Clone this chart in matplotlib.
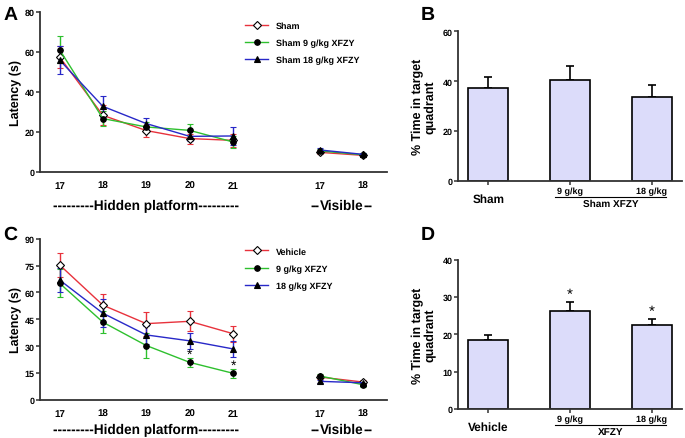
import numpy as np
import matplotlib
matplotlib.use("Agg")
import matplotlib.pyplot as plt
import matplotlib.transforms as mtransforms

plt.rcParams['font.family'] = ['Liberation Sans', 'DejaVu Sans']
plt.rcParams['font.weight'] = 'bold'
plt.rcParams['axes.labelweight'] = 'bold'
plt.rcParams['text.hinting'] = 'no_hinting'

# ---- data ----
days = ["17", "18", "19", "20", "21", "17", "18"]
xpos = [0, 1, 2, 3, 4, 6, 7]

a_labels = ["Sham", "Sham 9 g/kg XFZY", "Sham 18 g/kg XFZY"]
a_sham = [57.5, 28.3, 20.7, 16.7, 15.8, 9.8, 8.3]
a_sham_err = [5.5, 5.0, 3.0, 2.5, 3.2, 1.0, 0.8]
a_9g = [61.2, 26.7, 22.5, 20.8, 15.0, 10.5, 8.6]
a_9g_err = [6.8, 3.7, 2.5, 3.0, 3.0, 0.8, 0.8]
a_18g = [56.0, 32.8, 24.2, 17.8, 18.0, 11.0, 8.8]
a_18g_err = [7.2, 5.4, 2.6, 2.5, 4.5, 1.2, 0.8]

c_labels = ["Vehicle", "9 g/kg XFZY", "18 g/kg XFZY"]
c_veh = [75.4, 52.9, 42.6, 43.9, 37.0, 12.8, 10.0]
c_veh_err = [6.6, 6.3, 6.7, 5.6, 4.5, 1.0, 1.0]
c_9g = [65.2, 43.4, 30.4, 21.0, 14.9, 13.4, 8.5]
c_9g_err = [7.8, 6.0, 7.0, 2.6, 2.6, 1.0, 1.0]
c_18g = [67.0, 48.4, 36.3, 33.0, 28.5, 10.4, 9.6]
c_18g_err = [6.8, 7.8, 5.0, 4.6, 4.3, 1.0, 1.0]
c_sig = [3, 4]  # indices of 9 g/kg points marked with *

b_groups = ["Sham", "9 g/kg", "18 g/kg"]
b_vals = [37.3, 40.3, 33.7]
b_err = [4.3, 5.9, 4.6]

d_groups = ["Vehicle", "9 g/kg", "18 g/kg"]
d_vals = [18.4, 26.3, 22.6]
d_err = [1.4, 2.45, 1.6]
d_sig = [1, 2]

red = "#e8323c"
green = "#2ec02e"
blue = "#2828c8"
bar_fill = "#dcdcfa"
spine_c = "#333333"

fig = plt.figure(figsize=(6.85, 4.39), dpi=100)
axA = fig.add_axes([0.0584, 0.606, 0.5066, 0.3645])
axC = fig.add_axes([0.0584, 0.0866, 0.5066, 0.3674])
axB = fig.add_axes([0.6686, 0.586, 0.327, 0.340])
axD = fig.add_axes([0.6686, 0.066, 0.327, 0.340])


def style(ax):
    for s in ["top", "right"]:
        ax.spines[s].set_visible(False)
    for s in ["left", "bottom"]:
        ax.spines[s].set_linewidth(1.3)
        ax.spines[s].set_color(spine_c)
    ax.tick_params(axis="y", length=3, width=1.1, labelsize=6.5, pad=1,
                   color=spine_c)


def line_panel(ax, series, ymax, yticks, label_y, leg_anchor):
    style(ax)
    handles = []
    x = np.array(xpos)
    for vals, err, col, mk, mfc, lab in series:
        vals = np.array(vals); err = np.array(err)
        for seg in (slice(0, 5), slice(5, 7)):
            ax.errorbar(x[seg], vals[seg], yerr=err[seg], color=col, lw=1.0,
                        elinewidth=1.0, capsize=2.5, capthick=1.0,
                        marker=mk, ms=4, mfc=mfc, mec="black", mew=0.8, zorder=3)
        h, = ax.plot([], [], color=col, lw=1.0, marker=mk, ms=4, mfc=mfc,
                     mec="black", mew=0.8, label=lab)
        handles.append(h)
    ax.set_xlim(-0.45, 7.55)
    ax.set_ylim(0, ymax)
    ax.set_yticks(yticks)
    ax.set_xticks(xpos)
    ax.set_xticklabels(days)
    ax.tick_params(axis="x", length=0, labelsize=7, pad=6)
    ax.set_ylabel("Latency (s)", fontsize=9, labelpad=2)
    tr = mtransforms.blended_transform_factory(ax.transData, ax.transAxes)
    ax.text(2, label_y, "---------Hidden platform---------", transform=tr,
            ha="center", va="center", fontsize=9.8)
    # "--Visible--" split so the hyphen/V kerning does not merge the dashes
    ax.text(6.5, label_y, "Visible", transform=tr,
            ha="center", va="center", fontsize=9.8)
    ax.annotate("--", xy=(6.5, label_y), xycoords=tr, xytext=(-15.6, 0),
                textcoords="offset points", ha="right", va="center",
                fontsize=9.8)
    ax.annotate("--", xy=(6.5, label_y), xycoords=tr, xytext=(15.8, 0),
                textcoords="offset points", ha="left", va="center",
                fontsize=9.8)
    ax.legend(handles=handles, loc="upper left", bbox_to_anchor=leg_anchor,
              frameon=False, fontsize=6.5, handlelength=2.6, labelspacing=1.0,
              handletextpad=0.8, borderaxespad=0)


line_panel(axA, [(a_sham, a_sham_err, red, "D", "white", a_labels[0]),
                 (a_9g, a_9g_err, green, "o", "black", a_labels[1]),
                 (a_18g, a_18g_err, blue, "^", "black", a_labels[2])],
           80, [0, 20, 40, 60, 80], -0.21, (0.58, 0.965))

line_panel(axC, [(c_veh, c_veh_err, red, "D", "white", c_labels[0]),
                 (c_9g, c_9g_err, green, "o", "black", c_labels[1]),
                 (c_18g, c_18g_err, blue, "^", "black", c_labels[2])],
           90, [0, 15, 30, 45, 60, 75, 90], -0.184, (0.58, 0.97))
for i in c_sig:
    axC.text(xpos[i], c_9g[i] + c_9g_err[i] + 2.0, "*", ha="center",
             va="center", fontsize=10, fontweight="normal")


def bar_panel(ax, groups, vals, err, ymax, yticks, first_y, sub_y, line_y,
              group_name):
    style(ax)
    x = np.arange(len(vals))
    ax.bar(x, vals, width=0.49, color=bar_fill, edgecolor="black", lw=1.2,
           zorder=2)
    ax.errorbar(x, vals, yerr=[np.zeros(len(err)), err], fmt="none",
                ecolor="black", elinewidth=1.2, capsize=3, capthick=1.2,
                zorder=1)
    ax.set_xlim(-0.37, 2.37)
    ax.set_ylim(0, ymax)
    ax.set_yticks(yticks)
    ax.set_xticks(x)
    ax.set_xticklabels([""] + groups[1:])
    ax.tick_params(axis="x", length=3, width=1.1, labelsize=6.5, pad=1,
                   color=spine_c)
    ax.set_ylabel("% Time in target\nquadrant", fontsize=9, labelpad=4,
                  linespacing=1.1)
    tr = mtransforms.blended_transform_factory(ax.transData, ax.transAxes)
    ax.text(0, first_y, groups[0], transform=tr, ha="center", va="center",
            fontsize=8.5)
    ax.plot([0.82, 2.18], [line_y, line_y], transform=tr, color="black",
            lw=0.8, clip_on=False)
    ax.text(1.5, sub_y, group_name, transform=tr, ha="center", va="center",
            fontsize=7.2)


bar_panel(axB, b_groups, b_vals, b_err, 60, [0, 20, 40, 60],
          -0.122, -0.153, -0.107, "Sham XFZY")
bar_panel(axD, d_groups, d_vals, d_err, 40, [0, 10, 20, 30, 40],
          -0.121, -0.151, -0.107, "XFZY")
for i in d_sig:
    axD.text(i, d_vals[i] + d_err[i] + 2.0, "*", ha="center", va="center",
             fontsize=11, fontweight="normal")

for lab, (px, py) in zip("ABCD", [(4, 15), (421, 15), (3, 235), (421, 235)]):
    fig.text(px / 685, 1 - py / 439, lab, fontsize=14, fontweight="bold",
             ha="left", va="center")

fig.savefig("out.png", dpi=100)
